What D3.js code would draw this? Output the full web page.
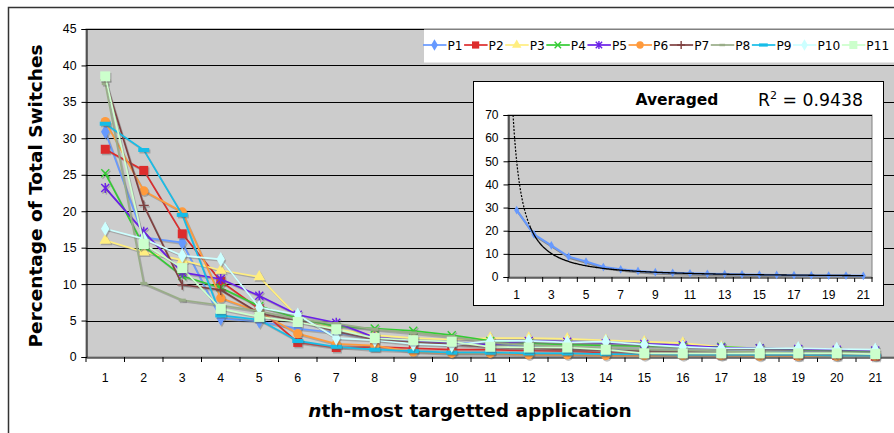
<!DOCTYPE html>
<html>
<head>
<meta charset="utf-8">
<script src="https://cdn.jsdelivr.net/npm/d3@7"></script>
<style>
	body { margin: 0; background: #fff; }
	svg { display: block; font-family: "DejaVu Sans", Verdana, sans-serif; }
	.tick text { fill: #000; }
</style>
</head>
<body>
<svg id="chart" width="894" height="433"></svg>
<script>

// category axis (rank of the application)
const categories = [1, 2, 3, 4, 5, 6, 7, 8, 9, 10, 11, 12, 13, 14, 15, 16, 17, 18, 19, 20, 21];
const yTicks = [0, 5, 10, 15, 20, 25, 30, 35, 40, 45];
const insetYTicks = [0, 10, 20, 30, 40, 50, 60, 70];
const insetXLabels = [1, 3, 5, 7, 9, 11, 13, 15, 17, 19, 21];

const seriesNames = ["P1", "P2", "P3", "P4", "P5", "P6", "P7", "P8", "P9", "P10", "P11"];

const p1 = [30.9, 16.4, 15.7, 5.3, 4.9, 3.9, 3.3, 2.5, 2.2, 2.0, 1.8, 1.5, 1.3, 1.1, 1.0, 0.9, 0.8, 0.7, 0.7, 0.6, 0.6];
const p2 = [28.5, 25.6, 16.9, 10.4, 6.6, 2.0, 1.3, 1.4, 1.2, 1.0, 1.0, 0.9, 0.8, 0.6, 0.5, 0.4, 0.3, 0.3, 0.2, 0.2, 0.1];
const p3 = [16.0, 14.4, 13.3, 11.9, 11.0, 5.5, 3.8, 3.0, 2.6, 2.4, 2.6, 2.6, 2.5, 2.3, 2.1, 1.9, 1.4, 1.2, 1.1, 1.0, 0.9];
const p4 = [25.2, 15.2, 11.1, 9.5, 7.0, 5.3, 4.2, 3.9, 3.6, 3.0, 2.2, 1.9, 1.7, 1.6, 1.5, 1.4, 1.4, 1.2, 1.0, 0.9, 0.8];
const p5 = [23.2, 17.2, 11.6, 10.7, 8.4, 5.8, 4.7, 2.7, 2.2, 1.9, 1.7, 2.2, 2.1, 1.9, 1.8, 1.6, 1.3, 1.2, 1.1, 1.0, 0.9];
const p6 = [32.3, 22.8, 19.9, 8.1, 6.2, 3.2, 1.8, 1.55, 0.7, 0.5, 0.5, 0.3, 0.3, 0.2, 0.2, 0.2, 0.2, 0.1, 0.1, 0.1, 0.1];
const p7 = [38.0, 20.8, 9.9, 9.2, 6.0, 5.0, 3.5, 2.4, 2.0, 1.7, 1.4, 1.2, 1.0, 0.9, 0.8, 0.7, 0.6, 0.5, 0.5, 0.4, 0.4];
const p8 = [37.5, 10.1, 7.8, 7.1, 6.3, 5.2, 4.6, 3.8, 3.3, 2.8, 2.0, 1.6, 1.4, 1.2, 1.0, 0.9, 0.8, 0.7, 0.6, 0.6, 0.5];
const p9 = [32.0, 28.4, 19.5, 5.7, 5.1, 2.2, 1.4, 1.0, 0.8, 0.6, 0.6, 0.5, 0.5, 0.4, 0.4, 0.3, 0.3, 0.3, 0.3, 0.2, 0.2];
const p10 = [17.6, 16.2, 13.9, 13.4, 6.8, 5.8, 2.6, 2.3, 1.8, 1.6, 2.2, 2.2, 2.0, 2.1, 1.7, 1.4, 1.2, 1.2, 1.2, 1.1, 1.0];
const p11 = [38.5, 15.5, 12.2, 6.6, 5.5, 4.8, 3.8, 2.6, 2.3, 2.1, 1.4, 1.3, 1.3, 1.0, 0.5, 0.5, 0.5, 0.5, 0.5, 0.5, 0.4];

// inset: averaged series and its power trendline (y = a * x^b)
const averaged = [28.9, 18.4, 13.7, 8.8, 6.7, 4.3, 3.3, 2.6, 2.1, 1.8, 1.6, 1.4, 1.3, 1.1, 1.0, 0.9, 0.8, 0.7, 0.6, 0.6, 0.5];
const trendA = 50;
const trendB = -1.45;
const trendSolidFrom = 1.75;
const rSquared = "0.9438";

const seriesValues = [p1, p2, p3, p4, p5, p6, p7, p8, p9, p10, p11];
const seriesColors = ["#6699ff", "#dd2c2c", "#ffee80", "#33cc33", "#6a1fe8", "#ff9a3c", "#7f4040", "#99ad88", "#16bde8", "#ccffff", "#ccffcc"];
const seriesMarkers = ["diamond", "square", "triangle", "cross", "star", "circle", "plus", "dash", "bar", "diamond", "bigsquare"];

const svg = d3.select("#chart");

// chart area frame
svg.append("rect")
	.attr("x", 8.5).attr("y", 7.5)
	.attr("width", 1000).attr("height", 1000)
	.attr("fill", "#fff")
	.attr("stroke", "#333")
	.attr("stroke-width", 1.5);

const x = d3.scaleBand().domain(categories).range([86, 894.5]);
const y = d3.scaleLinear().domain([0, 45]).range([357, 29]);
const cx = d => x(d) + x.bandwidth() / 2;

// plot area
svg.append("rect")
	.attr("x", 86).attr("y", 29)
	.attr("width", 900).attr("height", 328)
	.attr("fill", "#cccccc")
	.attr("stroke", "#808080");

svg.append("g")
	.selectAll("line")
	.data(yTicks.filter(d => d > 0))
	.join("line")
	.attr("x1", 86).attr("x2", 900)
	.attr("y1", d => Math.round(y(d)) + 0.5).attr("y2", d => Math.round(y(d)) + 0.5)
	.attr("stroke", "#000").attr("stroke-width", 1);

// axes
const yAxis = d3.axisLeft(y).tickValues(yTicks).tickSize(5).tickPadding(5);
const yg = svg.append("g").attr("transform", "translate(86.5,0)").call(yAxis);
yg.select(".domain").attr("stroke", "#000");
yg.selectAll(".tick text").style("font-size", "12.3px");

const xAxis = d3.axisBottom(x).tickSize(0).tickPadding(16);
const xg = svg.append("g").attr("transform", "translate(0,357.5)").call(xAxis);
xg.select(".domain").attr("stroke", "#000");
xg.selectAll(".tick text").style("font-size", "12.3px");

svg.append("g")
	.selectAll("line")
	.data([categories[0] - 1].concat(categories))
	.join("line")
	.attr("x1", (d, i) => i === 0 ? x(categories[0]) : x(d) + x.bandwidth())
	.attr("x2", (d, i) => i === 0 ? x(categories[0]) : x(d) + x.bandwidth())
	.attr("y1", 357).attr("y2", 362)
	.attr("stroke", "#000");

// marker drawing
function drawMarker(g, type, color, k) {
	const s = k || 1;
	const shapes = {
		diamond: () => g.append("path").attr("d", d3.symbol(d3.symbolDiamond, 62 * s * s)).attr("fill", color),
		square: () => g.append("rect").attr("x", -4.5 * s).attr("y", -4.5 * s).attr("width", 9 * s).attr("height", 9 * s).attr("fill", color),
		bigsquare: () => g.append("rect").attr("x", -5 * s).attr("y", -5 * s).attr("width", 10 * s).attr("height", 10 * s).attr("fill", color),
		triangle: () => g.append("path").attr("d", d3.symbol(d3.symbolTriangle, 60 * s * s)).attr("fill", color),
		circle: () => g.append("circle").attr("r", 4.6 * s).attr("fill", color),
		dash: () => g.append("rect").attr("x", -3.5 * s).attr("y", -1.5 * s).attr("width", 7 * s).attr("height", 3 * s).attr("fill", color),
		bar: () => g.append("rect").attr("x", -5.5 * s).attr("y", -2 * s).attr("width", 11 * s).attr("height", 4 * s).attr("fill", color),
		cross: () => g.append("path").attr("d", `M${-4 * s},${-4 * s}L${4 * s},${4 * s}M${-4 * s},${4 * s}L${4 * s},${-4 * s}`)
			.attr("stroke", color).attr("stroke-width", 1.4).attr("fill", "none"),
		star: () => g.append("path").attr("d", `M${-4 * s},${-4 * s}L${4 * s},${4 * s}M${-4 * s},${4 * s}L${4 * s},${-4 * s}M0,${-5 * s}L0,${5 * s}`)
			.attr("stroke", color).attr("stroke-width", 1.4).attr("fill", "none"),
		plus: () => g.append("path").attr("d", `M${-5 * s},0L${5 * s},0M0,${-5 * s}L0,${5 * s}`)
			.attr("stroke", color).attr("stroke-width", 1.4).attr("fill", "none")
	};
	shapes[type]();
}

// series lines with a soft shadow like the original
const line = d3.line().x((d, i) => cx(categories[i])).y(d => y(d));
const seriesG = svg.append("g");

seriesValues.forEach((vals, si) => {
	const g = seriesG.append("g");
	g.append("path")
		.attr("d", line(vals))
		.attr("transform", "translate(1.2,1.5)")
		.attr("fill", "none")
		.attr("stroke", "#777")
		.attr("stroke-opacity", 0.45)
		.attr("stroke-width", 1.7);
	g.append("path")
		.attr("d", line(vals))
		.attr("fill", "none")
		.attr("stroke", seriesColors[si])
		.attr("stroke-width", 1.7);
	vals.forEach((v, i) => {
		const sh = g.append("g")
			.attr("transform", `translate(${cx(categories[i]) + 1.2},${y(v) + 1.5})`)
			.attr("opacity", 0.35);
		drawMarker(sh, seriesMarkers[si], "#555");
		const m = g.append("g").attr("transform", `translate(${cx(categories[i])},${y(v)})`);
		drawMarker(m, seriesMarkers[si], seriesColors[si]);
	});
});

// legend
const legend = svg.append("g");
legend.append("rect")
	.attr("x", 424).attr("y", 29.5)
	.attr("width", 500).attr("height", 33)
	.attr("fill", "#fff");

let lx = 423;
seriesNames.forEach((name, si) => {
	const g = legend.append("g").attr("transform", `translate(${lx},45)`);
	g.append("line")
		.attr("x1", 0).attr("x2", 23.5)
		.attr("stroke", seriesColors[si]).attr("stroke-width", 1.7);
	const m = g.append("g").attr("transform", "translate(11.5,0)");
	drawMarker(m, seriesMarkers[si], seriesColors[si], 0.8);
	const t = g.append("text")
		.attr("x", 24.5).attr("y", 4.5)
		.style("font-size", "12.2px")
		.text(name);
	lx += 24.5 + t.node().getComputedTextLength() + 1.5;
});

// axis titles
svg.append("text")
	.attr("transform", "translate(42,196) rotate(-90)")
	.attr("text-anchor", "middle")
	.style("font-size", "18.5px")
	.style("font-weight", "bold")
	.text("Percentage of Total Switches");

const xt = svg.append("text")
	.attr("x", 470).attr("y", 417)
	.attr("text-anchor", "middle")
	.style("font-size", "18.5px")
	.style("font-weight", "bold");
xt.append("tspan").style("font-style", "italic").text("n");
xt.append("tspan").text("th-most targetted application");

// ---------- inset: averaged ----------
const inset = svg.append("g");
inset.append("rect")
	.attr("x", 473.5).attr("y", 81.5)
	.attr("width", 410).attr("height", 224)
	.attr("fill", "#fff")
	.attr("stroke", "#000");

const xi = d3.scaleBand().domain(categories).range([508, 872]);
const yi = d3.scaleLinear().domain([0, 70]).range([277, 115]);
const cxi = d => xi(d) + xi.bandwidth() / 2;
const xiLin = d3.scaleLinear().domain([1, 21]).range([cxi(1), cxi(21)]);

inset.append("rect")
	.attr("x", 508).attr("y", 115)
	.attr("width", 364).attr("height", 162)
	.attr("fill", "#cccccc")
	.attr("stroke", "#808080");

inset.append("g")
	.selectAll("line")
	.data(insetYTicks.filter(d => d > 0))
	.join("line")
	.attr("x1", 508).attr("x2", 872)
	.attr("y1", d => Math.round(yi(d)) + 0.5).attr("y2", d => Math.round(yi(d)) + 0.5)
	.attr("stroke", "#000");

const yiAxis = d3.axisLeft(yi).tickValues(insetYTicks).tickSize(5).tickPadding(5);
const yig = inset.append("g").attr("transform", "translate(508.5,0)").call(yiAxis);
yig.select(".domain").attr("stroke", "#000");
yig.selectAll(".tick text").style("font-size", "12px");

const xiAxis = d3.axisBottom(xi).tickSize(0).tickPadding(13)
	.tickFormat(d => insetXLabels.includes(d) ? d : "");
const xig = inset.append("g").attr("transform", "translate(0,277.5)").call(xiAxis);
xig.select(".domain").attr("stroke", "#000");
xig.selectAll(".tick text").style("font-size", "12px");

inset.append("g")
	.selectAll("line")
	.data([0].concat(categories))
	.join("line")
	.attr("x1", (d, i) => i === 0 ? xi(categories[0]) : xi(d) + xi.bandwidth())
	.attr("x2", (d, i) => i === 0 ? xi(categories[0]) : xi(d) + xi.bandwidth())
	.attr("y1", 277).attr("y2", 282)
	.attr("stroke", "#000");

// averaged line with shadow
const iline = d3.line().x((d, i) => cxi(categories[i])).y(d => yi(d));
inset.append("path")
	.attr("d", iline(averaged))
	.attr("transform", "translate(1,1.5)")
	.attr("fill", "none")
	.attr("stroke", "#888")
	.attr("stroke-width", 2);
inset.append("path")
	.attr("d", iline(averaged))
	.attr("fill", "none")
	.attr("stroke", "#6699ff")
	.attr("stroke-width", 2);
inset.append("g")
	.selectAll("path")
	.data(averaged)
	.join("path")
	.attr("transform", (d, i) => `translate(${cxi(categories[i])},${yi(d)})`)
	.attr("d", d3.symbol(d3.symbolDiamond, 22))
	.attr("fill", "#6699ff");

// power trendline, dotted where it runs above the data
const trendStart = Math.pow(70 / trendA, 1 / trendB);
const tline = d3.line().x(d => xiLin(d)).y(d => yi(trendA * Math.pow(d, trendB)));
const dottedXs = d3.range(trendStart, trendSolidFrom + 0.001, 0.01);
const solidXs = d3.range(trendSolidFrom, 21.001, 0.05);
inset.append("path")
	.attr("d", tline(dottedXs))
	.attr("fill", "none")
	.attr("stroke", "#000")
	.attr("stroke-width", 1.2)
	.attr("stroke-dasharray", "2,1.5");
inset.append("path")
	.attr("d", tline(solidXs))
	.attr("fill", "none")
	.attr("stroke", "#000")
	.attr("stroke-width", 1.3);

// inset title and R squared
inset.append("text")
	.attr("x", 677).attr("y", 105)
	.attr("text-anchor", "middle")
	.style("font-size", "15.5px")
	.style("font-weight", "bold")
	.text("Averaged");

const r2 = inset.append("text")
	.attr("x", 758).attr("y", 106)
	.style("font-size", "17.3px");
r2.append("tspan").text("R");
r2.append("tspan").attr("dy", -7).style("font-size", "11px").text("2");
r2.append("tspan").attr("dy", 7).text(" = " + rSquared);

</script>
</body>
</html>
